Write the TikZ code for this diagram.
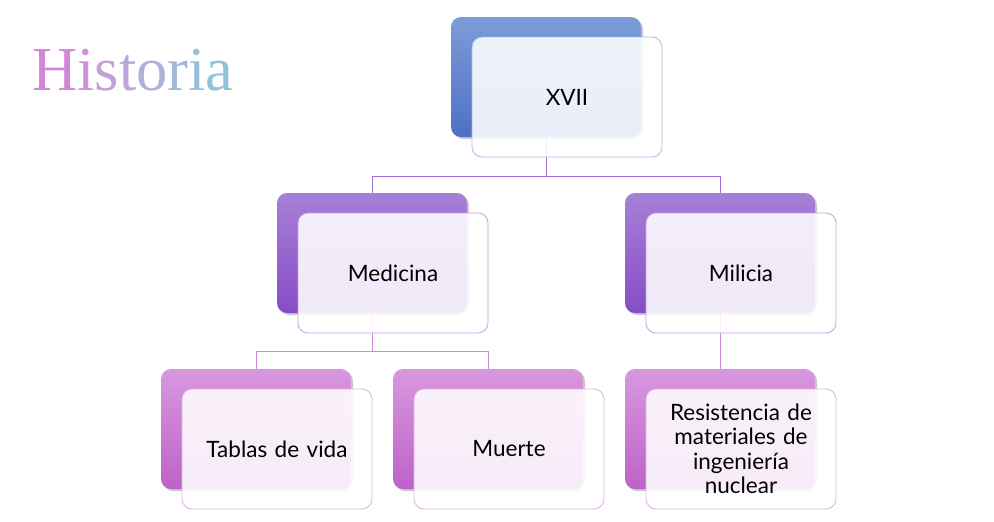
\documentclass[tikz,border=0pt]{standalone}
\usepackage{fontspec}
\setmainfont{Lato}
\newfontfamily\titlefont{Liberation Serif}
\usetikzlibrary{shadows}
\definecolor{bluetop}{HTML}{7C9CD8}
\definecolor{bluebot}{HTML}{4F70C3}
\definecolor{purtop}{HTML}{A680D7}
\definecolor{purbot}{HTML}{874CC6}
\definecolor{pinktop}{HTML}{D898DF}
\definecolor{pinkbot}{HTML}{BE62C8}
\definecolor{blueedge}{HTML}{A8BCE8}
\definecolor{puredge}{HTML}{C8A0E6}
\definecolor{pinkedge}{HTML}{E2AEE8}
\definecolor{lineA}{HTML}{A46ED4}
\definecolor{lineB}{HTML}{CE88DC}
\definecolor{tA}{HTML}{D286D8}
\definecolor{tB}{HTML}{CB95D7}
\definecolor{tC}{HTML}{C5A0D8}
\definecolor{tD}{HTML}{BBA8D8}
\definecolor{tE}{HTML}{AEB1D8}
\definecolor{tF}{HTML}{A2B8D8}
\definecolor{tG}{HTML}{98BED8}
\definecolor{tH}{HTML}{8EC4D8}
\tikzset{
  backbox/.style={rectangle, rounded corners=10pt, minimum width=190pt, minimum height=120pt, inner sep=0pt,
    drop shadow={shadow xshift=2pt, shadow yshift=-2pt, opacity=0.35, fill=black!60}},
  blueback/.style={backbox, top color=bluetop, bottom color=bluebot},
  purback/.style={backbox, top color=purtop, bottom color=purbot},
  pinkback/.style={backbox, top color=pinktop, bottom color=pinkbot},
  frontbox/.style={rectangle, rounded corners=10pt, minimum width=190pt, minimum height=120pt, inner sep=2pt,
    fill=white, fill opacity=0.88, text opacity=1, line width=0.8pt, font=\fontsize{22.5}{24.5}\selectfont,
    text width=175pt, align=center},
  bluefront/.style={frontbox, draw=blueedge},
  purfront/.style={frontbox, draw=puredge},
  pinkfront/.style={frontbox, draw=pinkedge},
  connA/.style={draw=lineA, line width=1pt},
  connB/.style={draw=lineB, line width=1pt},
}
\begin{document}
\begin{tikzpicture}[x=1pt,y=-1pt]
\useasboundingbox (0,0) rectangle (994,522);
% title
\node[anchor=base west, inner sep=0pt, font=\titlefont\fontsize{62.5}{64}\selectfont] (title) at (32,90)
 {\textcolor{tA}{H}\textcolor{tB}{i}\textcolor{tC}{s}\textcolor{tD}{t}\textcolor{tE}{o}\textcolor{tF}{r}\textcolor{tG}{i}\textcolor{tH}{a}};
% connector coordinates
\coordinate (j1) at (546,176);
\coordinate (j1l) at (372,176);
\coordinate (j1r) at (720,176);
\coordinate (j2) at (372,351);
\coordinate (j2l) at (256,351);
\coordinate (j2r) at (488,351);
\path (546,77) coordinate (p1)
      (372,253) coordinate (p2)
      (720,253) coordinate (p3)
      (256,429) coordinate (p4)
      (488,429) coordinate (p5)
      (720,429) coordinate (p6);
% connectors
\draw[connA] (p1) -- (j1);
\draw[connA] (j1l) -- (j1r);
\draw[connA] (j1l) -- (p2);
\draw[connA] (j1r) -- (p3);
\draw[connB] (p2) -- (j2);
\draw[connB] (j2l) -- (j2r);
\draw[connB] (j2l) -- (p4);
\draw[connB] (j2r) -- (p5);
\draw[connB] (p3) -- (p6);
% back boxes
\node[blueback] (b1) at (p1) {};
\node[purback] (b2) at (p2) {};
\node[purback] (b3) at (p3) {};
\node[pinkback] (b4) at (p4) {};
\node[pinkback] (b5) at (p5) {};
\node[pinkback] (b6) at (p6) {};
% front boxes
\node[bluefront] (f1) at (567,97) {XVII};
\node[purfront] (f2) at (393,273) {Medicina};
\node[purfront] (f3) at (741,273) {Milicia};
\node[pinkfront] (f4) at (277,449) {Tablas de vida};
\node[pinkfront] (f5) at (509,449) {Muerte};
\node[pinkfront] (f6) at (741,449) {Resistencia de\\materiales de\\ingeniería\\nuclear};
\end{tikzpicture}
\end{document}
